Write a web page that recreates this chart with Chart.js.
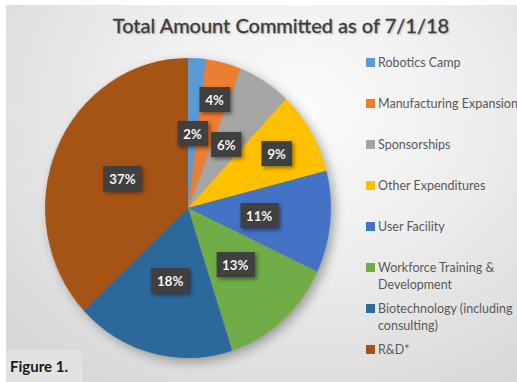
<!DOCTYPE html>
<html lang="en">

<head>
  <meta charset="UTF-8">
  <title>Total Amount Committed as of 7/1/18</title>
  <script src="https://cdn.jsdelivr.net/npm/chart.js"></script>
  <style>
    html, body {
      margin: 0;
      padding: 0;
      background: #ffffff;
      overflow: hidden;
    }

    .panel {
      position: absolute;
      left: 6px;
      top: 5px;
      width: 511px;
      height: 377px;
      overflow: hidden;
      background: radial-gradient(ellipse 75% 85% at 58% 28%, #fcfcfc 0%, #eeeeee 45%, #d8d8d8 100%);
      font-family: Lato, "Open Sans", sans-serif;
    }

    .title {
      position: absolute;
      left: 275px;
      top: 8px;
      transform: translateX(-50%);
      white-space: nowrap;
      font-size: 20px;
      color: #3c3c3c;
      text-shadow: 1px 1px 2px rgba(0, 0, 0, 0.3);
      -webkit-text-stroke: 0.3px #3c3c3c;
    }

    #grafico {
      position: absolute;
      left: 12px;
      top: 33px;
      transform: scaleX(0.953);
      transform-origin: 170px 170px;
    }

    .leyenda {
      position: absolute;
      left: 360px;
      top: 49px;
      margin: 0;
      padding: 0;
      list-style: none;
      font-size: 12.5px;
      color: #595959;
    }

    .leyenda li {
      position: relative;
      height: 41px;
      padding-left: 12px;
      line-height: 17px;
      white-space: nowrap;
    }

    .leyenda li span {
      position: absolute;
      left: 0;
      top: 4px;
      width: 9px;
      height: 9px;
    }

    .figura {
      position: absolute;
      left: 0;
      top: 345px;
      width: 72px;
      height: 32px;
      background: #e2e2e2;
      font-weight: bold;
      font-size: 15px;
      color: #1a1a1a;
      line-height: 32px;
      padding-left: 4px;
    }
  </style>
</head>

<body>
  <div class="panel">
    <div class="title">Total Amount Committed as of 7/1/18</div>
    <canvas id="grafico" width="340" height="340"></canvas>
    <ul class="leyenda" id="leyenda"></ul>
    <div class="figura">Figure 1.</div>
  </div>

  <script>
    // Share of the total committed amount, in percent
    const categorias = [
      'Robotics Camp',
      'Manufacturing Expansion',
      'Sponsorships',
      'Other Expenditures',
      'User Facility',
      ['Workforce Training &', 'Development'],
      ['Biotechnology (including', 'consulting)'],
      'R&D*'
    ];
    const porcentajes = [2, 4, 6, 9, 11, 13, 18, 37];
    const colores = ['#5b9bd5', '#ed7d31', '#a5a5a5', '#ffc000', '#4472c4', '#70ad47', '#2c689b', '#a65316'];

    // how far out each value box sits, as a fraction of the radius
    const distEtiqueta = [0.5, 0.75, 0.5, 0.72, 0.5, 0.5, 0.5, 0.5];

    // soft shadow behind the whole pie
    const sombraPastel = {
      id: 'sombraPastel',
      beforeDatasetsDraw(chart) {
        const arc = chart.getDatasetMeta(0).data[0];
        if (!arc) return;
        const { x, y, outerRadius } = arc.getProps(['x', 'y', 'outerRadius'], true);
        const ctx = chart.ctx;
        ctx.save();
        ctx.shadowColor = 'rgba(0, 0, 0, 0.35)';
        ctx.shadowBlur = 12;
        ctx.shadowOffsetX = 4;
        ctx.shadowOffsetY = 4;
        ctx.fillStyle = '#888888';
        ctx.beginPath();
        ctx.arc(x, y, outerRadius - 0.5, 0, Math.PI * 2);
        ctx.fill();
        ctx.restore();
      }
    };

    // dark boxes with the percentage of each slice
    const cajasValor = {
      id: 'cajasValor',
      afterDatasetsDraw(chart) {
        const ctx = chart.ctx;
        const valores = chart.data.datasets[0].data;
        ctx.save();
        ctx.font = 'bold 14px Lato, "Open Sans", sans-serif';
        ctx.textAlign = 'center';
        ctx.textBaseline = 'middle';
        chart.getDatasetMeta(0).data.forEach((arc, i) => {
          const p = arc.getProps(['x', 'y', 'startAngle', 'endAngle', 'outerRadius'], true);
          const medio = (p.startAngle + p.endAngle) / 2;
          const r = p.outerRadius * distEtiqueta[i];
          const cx = p.x + Math.cos(medio) * r;
          const cy = p.y + Math.sin(medio) * r;
          const texto = valores[i] + '%';
          const w = ctx.measureText(texto).width + 12;
          const h = 25;

          ctx.shadowColor = 'rgba(0, 0, 0, 0.45)';
          ctx.shadowBlur = 4;
          ctx.shadowOffsetX = 2;
          ctx.shadowOffsetY = 2;
          ctx.fillStyle = '#404040';
          ctx.fillRect(Math.round(cx - w / 2), Math.round(cy - h / 2), Math.round(w), h);

          ctx.shadowColor = 'transparent';
          ctx.fillStyle = '#ffffff';
          ctx.fillText(texto, cx, cy + 1);
        });
        ctx.restore();
      }
    };

    new Chart(document.getElementById('grafico'), {
      type: 'pie',
      data: {
        labels: categorias.map(c => Array.isArray(c) ? c.join(' ') : c),
        datasets: [{
          data: porcentajes,
          backgroundColor: colores,
          borderWidth: 0
        }]
      },
      options: {
        responsive: false,
        animation: false,
        layout: { padding: 20 },
        plugins: {
          legend: { display: false },
          tooltip: { enabled: false }
        }
      },
      plugins: [sombraPastel, cajasValor]
    });

    // legend on the right
    const leyenda = document.getElementById('leyenda');
    categorias.forEach((c, i) => {
      const li = document.createElement('li');
      const caja = document.createElement('span');
      caja.style.background = colores[i];
      li.appendChild(caja);
      const lineas = Array.isArray(c) ? c : [c];
      lineas.forEach((l, j) => {
        if (j > 0) li.appendChild(document.createElement('br'));
        li.appendChild(document.createTextNode(l));
      });
      leyenda.appendChild(li);
    });
  </script>

</body>

</html>
